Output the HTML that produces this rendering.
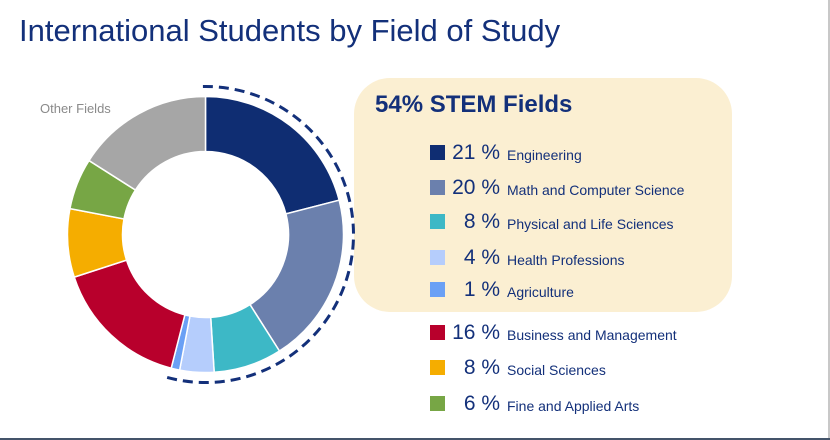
<!DOCTYPE html>
<html><head><meta charset="utf-8"><style>
html,body{margin:0;padding:0;background:#fff;}
body{width:830px;height:440px;position:relative;overflow:hidden;font-family:"Liberation Sans",sans-serif;}
.title{position:absolute;left:19px;top:13px;font-size:31px;color:#13307a;white-space:nowrap;}
.box{position:absolute;left:354px;top:78px;width:378px;height:234px;background:#fbefd2;border-radius:36px;}
.stem{position:absolute;left:375px;top:91px;font-size:24px;font-weight:bold;color:#13307a;}
.row{position:absolute;left:430px;height:24px;color:#13307a;white-space:nowrap;}
.sq{position:absolute;left:0;top:4px;width:15px;height:15px;}
.pct{position:absolute;left:-10px;width:80px;text-align:right;font-size:21px;top:0;line-height:24px;}
.lab{position:absolute;left:77px;font-size:14px;top:5px;line-height:18px;}
.other{position:absolute;left:40px;top:101px;font-size:13px;color:#8a8a8a;}
</style></head><body>
<div class="title">International Students by Field of Study</div>
<div class="box"></div>
<div class="stem">54% STEM Fields</div>
<div class="other">Other Fields</div>
<svg width="830" height="440" style="position:absolute;left:0;top:0" id="s">
<line x1="829" y1="0" x2="829" y2="440" stroke="#c8c8c8" stroke-width="2"/>
<line x1="0" y1="439" x2="830" y2="439" stroke="#44546a" stroke-width="2"/>
</svg>
<div class="row" style="top:141px"><div class="sq" style="background:#0f2d72"></div><div class="pct">21 %</div><div class="lab">Engineering</div></div>
<div class="row" style="top:176px"><div class="sq" style="background:#6b80ad"></div><div class="pct">20 %</div><div class="lab">Math and Computer Science</div></div>
<div class="row" style="top:210px"><div class="sq" style="background:#3db8c6"></div><div class="pct">8 %</div><div class="lab">Physical and Life Sciences</div></div>
<div class="row" style="top:246px"><div class="sq" style="background:#b5cdfc"></div><div class="pct">4 %</div><div class="lab">Health Professions</div></div>
<div class="row" style="top:278px"><div class="sq" style="background:#6aa0f5"></div><div class="pct">1 %</div><div class="lab">Agriculture</div></div>
<div class="row" style="top:321px"><div class="sq" style="background:#b8002c"></div><div class="pct">16 %</div><div class="lab">Business and Management</div></div>
<div class="row" style="top:356px"><div class="sq" style="background:#f5ad00"></div><div class="pct">8 %</div><div class="lab">Social Sciences</div></div>
<div class="row" style="top:392px"><div class="sq" style="background:#77a645"></div><div class="pct">6 %</div><div class="lab">Fine and Applied Arts</div></div>
<script>
(function(){
var s=document.getElementById('s'),cx=205.5,cy=234.5,R=138,r=83;
var v=[21,20,8,4,1,16,8,6,16],c=['#0f2d72','#6b80ad','#3db8c6','#b5cdfc','#6aa0f5','#b8002c','#f5ad00','#77a645','#a6a6a6'];
function p(a,rad){a=(a-90)*Math.PI/180;return [cx+rad*Math.cos(a),cy+rad*Math.sin(a)];}
var a0=0,h='';
v.forEach(function(x,i){var a1=a0+x*3.6,l=(x*3.6>180)?1:0;
var A=p(a0,R),B=p(a1,R),C=p(a1,r),D=p(a0,r);
h+='<path d="M'+A+' A'+R+' '+R+' 0 '+l+' 1 '+B+' L'+C+' A'+r+' '+r+' 0 '+l+' 0 '+D+'Z" fill="'+c[i]+'" stroke="#fff" stroke-width="1.5"/>';a0=a1;});
var A=p(-1,148),B=p(197,148);
h+='<path d="M'+A+' A148 148 0 1 1 '+B+'" fill="none" stroke="#13307a" stroke-width="3" stroke-dasharray="10 6"/>';
s.insertAdjacentHTML('beforeend',h);
})();
</script>
</body></html>
